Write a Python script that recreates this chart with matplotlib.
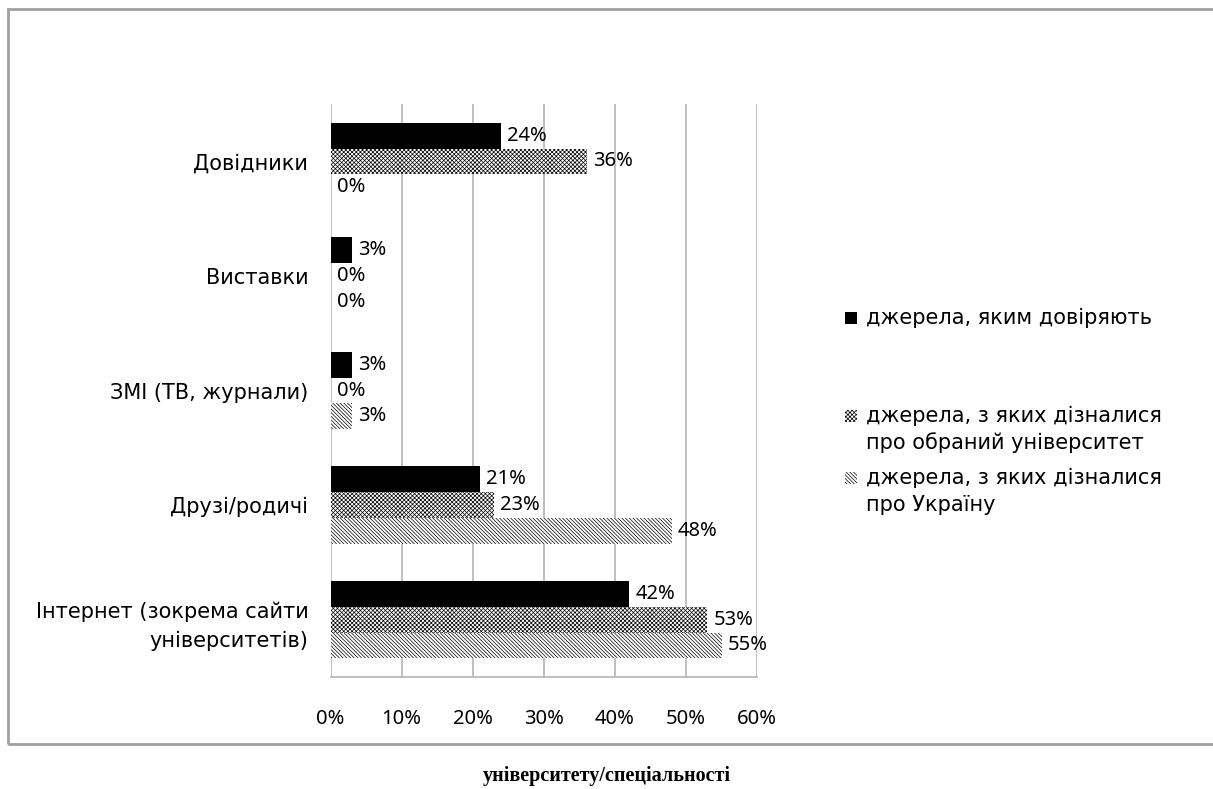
import matplotlib.pyplot as plt
import numpy as np
from matplotlib.patches import Rectangle

plt.rcParams["font.family"] = ["Noto Sans", "DejaVu Sans"]
plt.rcParams["hatch.linewidth"] = 0.5

categories = ["Довідники", "Виставки", "ЗМІ (ТВ, журнали)", "Друзі/родичі",
              "Інтернет (зокрема сайти\nуніверситетів)"]
trust = [24, 3, 3, 21, 42]
learned_univ = [36, 0, 0, 23, 53]
learned_ukraine = [0, 0, 3, 48, 55]

series_labels = ["джерела, яким довіряють",
                 "джерела, з яких дізналися\nпро обраний університет",
                 "джерела, з яких дізналися\nпро Україну"]
x_ticks = [0, 10, 20, 30, 40, 50, 60]

STYLES = [
    {"facecolor": "black", "hatch": None},
    {"facecolor": "white", "hatch": "xxxxxxxx"},
    {"facecolor": "white", "hatch": "\\\\\\\\\\\\\\\\\\"},
]
GRID = "#b4b4b4"
FS_TXT = 15
FS_NUM = 14.5
TEXT_FONT = ["DejaVu Sans"]

fig = plt.figure(figsize=(12.13, 7.89), dpi=100)

# outer frame
fig.patches.append(Rectangle((0.0066, 0.057), 1.0, 0.9316, transform=fig.transFigure,
                             fill=False, edgecolor="#a0a0a0", linewidth=2))

ax = fig.add_axes([0.2725, 0.142, 0.3517, 0.726])

# reverse so first category is on top
y = np.arange(len(categories))[::-1]
h = 0.225
offsets = [h, 0, -h]
for vals, off, st in zip([trust, learned_univ, learned_ukraine], offsets, STYLES):
    ax.barh(y + off, vals, height=h, color=st["facecolor"],
            hatch=st["hatch"], edgecolor="black", linewidth=0, zorder=3)
    for yi, v in zip(y + off, vals):
        ax.annotate(f"{v}%", (v, yi), xytext=(4.5, 0), textcoords="offset points",
                    va="center", ha="left", fontsize=FS_NUM, zorder=4)

ax.set_xlim(0, 60)
ax.set_ylim(-0.5, len(categories) - 0.5)
ax.set_xticks(x_ticks)
ax.set_xticklabels([f"{t}%" for t in x_ticks], fontsize=FS_NUM)
ax.set_yticks(y)
ax.set_yticklabels(categories, fontsize=FS_TXT, linespacing=1.55, family=TEXT_FONT)
ax.tick_params(axis="x", length=0, pad=23)
ax.tick_params(axis="y", length=0, pad=16)
ax.xaxis.grid(True, color=GRID, linewidth=1.2, zorder=0)
for s in ["top", "right", "left"]:
    ax.spines[s].set_visible(False)
ax.spines["bottom"].set_color(GRID)
ax.spines["bottom"].set_linewidth(1.2)

# legend placed by hand (y in pixels from top)
leg_rows = [318, 416, 478]
line_step = 27
for st, lab, ry in zip(STYLES, series_labels, leg_rows):
    ly = 1 - ry / 789
    fig.patches.append(Rectangle((845 / 1213, ly - 0.0075), 0.0095, 0.0145,
                                 transform=fig.transFigure,
                                 facecolor=st["facecolor"], hatch=st["hatch"],
                                 edgecolor="black", linewidth=0))
    for k, line in enumerate(lab.split("\n")):
        fig.text(866 / 1213, ly - k * line_step / 789, line, fontsize=FS_TXT,
                 family=TEXT_FONT, va="center", ha="left")

fig.text(0.5, 1 - 776 / 789, "університету/спеціальності", weight="bold",
         family="Liberation Serif", fontsize=14.5, ha="center", va="center")

fig.savefig("out.png", dpi=100)
